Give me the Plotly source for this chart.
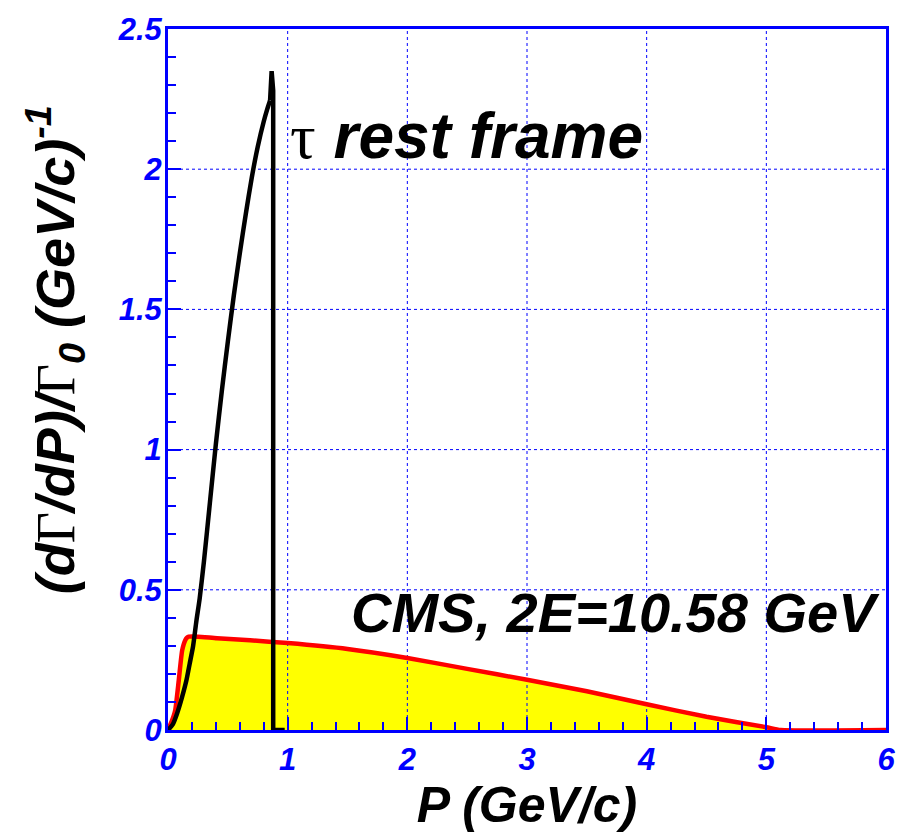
import plotly.graph_objects as go

# Momentum spectra of the decay product
# tau rest frame (black)
tau_p = [0.0, 0.04, 0.076, 0.118, 0.154, 0.181, 0.21, 0.237, 0.265, 0.30, 0.35, 0.40,
         0.45, 0.50, 0.55, 0.60, 0.65, 0.70, 0.75, 0.80, 0.83, 0.853, 0.866, 0.879,
         0.879, 0.975]
tau_w = [0.0, 0.02, 0.059, 0.118, 0.177, 0.236, 0.30, 0.388, 0.47, 0.60, 0.81, 1.02,
         1.21, 1.385, 1.55, 1.70, 1.84, 1.97, 2.08, 2.17, 2.215, 2.245, 2.35, 2.28,
         0.0, 0.0]
# index where the smooth rise ends and the sharp kinematic edge begins
tau_edge = 21

# CMS frame at 2E = 10.58 GeV (red line, yellow fill)
cms_p = [0.0, 0.03, 0.06, 0.09, 0.118, 0.146, 0.16, 0.173, 0.25, 0.41, 0.686, 1.0,
         1.5, 2.0, 2.5, 3.0, 3.5, 4.0, 4.5, 5.0, 5.12, 6.0]
cms_w = [0.0, 0.03, 0.07, 0.177, 0.283, 0.322, 0.330, 0.333, 0.333, 0.327, 0.32, 0.31,
         0.289, 0.257, 0.218, 0.179, 0.138, 0.092, 0.047, 0.01, 0.0, 0.0]

x_ticks = [0, 1, 2, 3, 4, 5, 6]
y_ticks = [0, 0.5, 1, 1.5, 2, 2.5]
y_tick_text = ["0", "0.5", "1", "1.5", "2", "2.5"]

x_range = [0, 6]
y_range = [0, 2.5]

BLUE = "rgb(0,0,255)"
FONT = "Liberation Sans"
SERIF = "Liberation Serif"

fig = go.Figure()

# yellow area under the CMS spectrum
fig.add_trace(go.Scatter(x=cms_p, y=cms_w, mode="lines", fill="tozeroy",
                         fillcolor="rgb(255,255,0)", line=dict(width=0),
                         hoverinfo="skip", showlegend=False))

# dotted grid, drawn over the fill
gx, gy = [], []
for v in x_ticks[1:-1]:
    gx += [v, v, None]
    gy += [y_range[0], y_range[1], None]
for v in y_ticks[1:-1]:
    gx += [x_range[0], x_range[1], None]
    gy += [v, v, None]
fig.add_trace(go.Scatter(x=gx, y=gy, mode="lines",
                         line=dict(color=BLUE, width=1, dash="dot"),
                         hoverinfo="skip", showlegend=False))

# CMS spectrum outline
fig.add_trace(go.Scatter(x=cms_p, y=cms_w, mode="lines",
                         line=dict(color="rgb(255,0,0)", width=4.5, shape="spline",
                                   smoothing=0.5),
                         showlegend=False))

# tau rest frame spectrum: smooth rise, then the sharp edge
fig.add_trace(go.Scatter(x=tau_p[:tau_edge + 1], y=tau_w[:tau_edge + 1], mode="lines",
                         line=dict(color="black", width=4.5, shape="spline", smoothing=0.6),
                         showlegend=False))
fig.add_trace(go.Scatter(x=tau_p[tau_edge:], y=tau_w[tau_edge:], mode="lines",
                         line=dict(color="black", width=4.5),
                         showlegend=False))

serif_span = "<span style='font-family:%s;font-weight:normal;font-style:normal'>%s</span>"
ytitle = ("(d" + serif_span % (SERIF, "Γ") + "/dP)/" + serif_span % (SERIF, "Γ")
          + "<sub>0</sub> (GeV/c)<sup>-1</sup>")

fig.add_annotation(x=1.0, y=2.12, xref="x", yref="y", xanchor="left", yanchor="middle",
                   text=serif_span % (SERIF, "τ") + " rest frame", showarrow=False,
                   font=dict(family=FONT, size=64, color="black", weight="bold", style="italic"))
fig.add_annotation(x=5.97, y=0.42, xref="x", yref="y", xanchor="right", yanchor="middle",
                   text="CMS, 2E=10.58 GeV", showarrow=False,
                   font=dict(family=FONT, size=56, color="black", weight="bold", style="italic"))

# y-axis title
fig.add_annotation(x=-0.157, y=0.542, xref="paper", yref="paper", xanchor="center",
                   yanchor="middle", textangle=-90, text=ytitle, showarrow=False,
                   font=dict(family=FONT, size=54, color="black", weight="bold", style="italic"))

axis_common = dict(showline=True, linecolor=BLUE, linewidth=3, mirror=True,
                   showgrid=False, zeroline=False, ticks="inside", tickcolor=BLUE,
                   tickwidth=1.5,
                   tickfont=dict(family=FONT, size=31, color=BLUE, weight="bold", style="italic"))

fig.update_xaxes(range=x_range, tickvals=x_ticks, ticktext=[str(v) for v in x_ticks],
                 ticklen=13, ticklabelstandoff=0,
                 minor=dict(dtick=0.2, ticks="inside", ticklen=8, tickcolor=BLUE, tickwidth=1.5),
                 title=dict(text="P (GeV/c)", standoff=8,
                            font=dict(family=FONT, size=50, color="black", weight="bold", style="italic")),
                 **axis_common)
fig.update_yaxes(range=y_range, tickvals=y_ticks, ticktext=y_tick_text,
                 ticklen=13, ticklabelstandoff=-3,
                 minor=dict(dtick=0.1, ticks="inside", ticklen=8, tickcolor=BLUE, tickwidth=1.5),
                 **axis_common)

fig.update_layout(width=907, height=840, margin=dict(l=168, r=20, t=24, b=110),
                  paper_bgcolor="white", plot_bgcolor="white")

fig.write_html("out.html")
